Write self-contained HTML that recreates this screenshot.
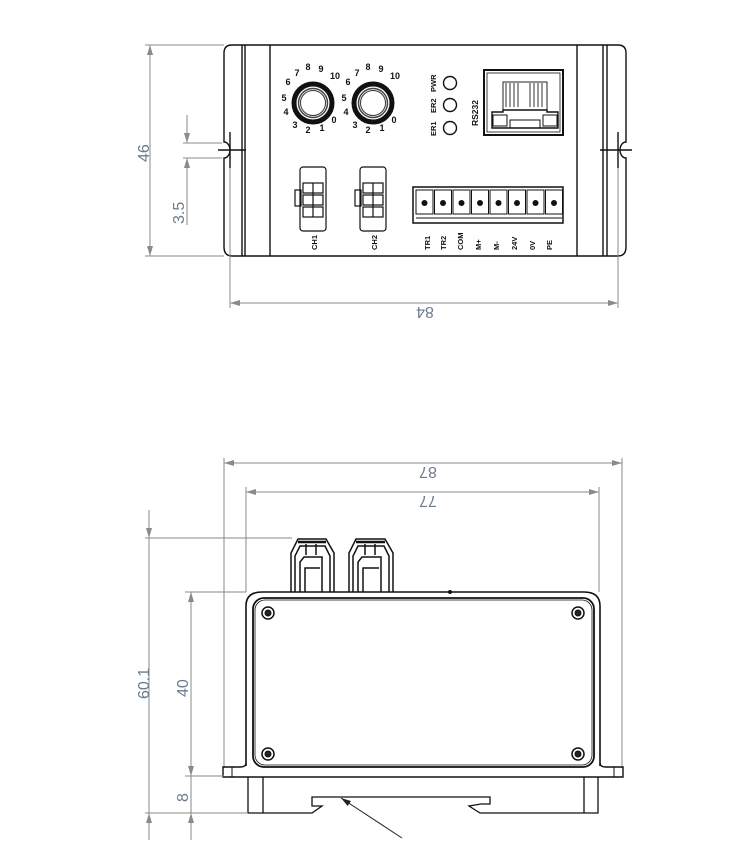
<!DOCTYPE html>
<html><head><meta charset="utf-8"><style>
html,body{margin:0;padding:0;background:#fff;}
svg{display:block;}
.d{stroke:#8a8a8a;stroke-width:1;fill:none;}
.k{stroke:#111;stroke-width:1.4;fill:none;}
.t{font-family:"Liberation Sans",sans-serif;fill:#6b7b8e;font-size:16px;}
.s{font-family:"Liberation Sans",sans-serif;fill:#111;font-size:7.5px;font-weight:bold;}
</style></head><body>
<svg width="750" height="845" viewBox="0 0 750 845" xmlns="http://www.w3.org/2000/svg">
<defs>
<marker id="a" viewBox="0 0 10 6" refX="10" refY="3" markerWidth="10" markerHeight="6" orient="auto-start-reverse" markerUnits="userSpaceOnUse"><path d="M0,0 L10,3 L0,6 z" fill="#8a8a8a"/></marker>
<marker id="b" viewBox="0 0 10 6" refX="10" refY="3" markerWidth="10" markerHeight="6" orient="auto" markerUnits="userSpaceOnUse"><path d="M0,0 L10,3 L0,6 z" fill="#222"/></marker>
</defs>

<!-- ===== TOP VIEW ===== -->
<path class="k" d="M232,45 H618 Q626,45 626,53 V142 A6,8 0 0 0 626,158 V247 Q626,256 618,256 H232 Q224,256 224,247 V158 A6,8 0 0 0 224,142 V53 Q224,45 232,45 Z"/>
<line class="k" x1="242" y1="45" x2="242" y2="256"/>
<line class="k" x1="245" y1="45" x2="245" y2="256"/>
<line class="k" x1="270" y1="45" x2="270" y2="256"/>
<line class="k" x1="577" y1="45" x2="577" y2="256"/>
<line class="k" x1="603" y1="45" x2="603" y2="256"/>
<line class="k" x1="607" y1="45" x2="607" y2="256"/>
<line class="k" x1="218" y1="150" x2="246" y2="150" stroke-width="1"/>
<line class="k" x1="230" y1="132" x2="230" y2="168" stroke-width="1"/>
<line class="k" x1="600" y1="150" x2="632" y2="150" stroke-width="1"/>
<line class="k" x1="618" y1="132" x2="618" y2="168" stroke-width="1"/>

<!-- knobs -->
<g>
<circle cx="313" cy="103" r="19" fill="none" stroke="#111" stroke-width="5"/>
<circle cx="313" cy="103" r="14.5" fill="none" stroke="#444" stroke-width="1.5"/>
<circle cx="313" cy="103" r="12.5" fill="none" stroke="#333" stroke-width="1"/>
<circle cx="373" cy="103" r="19" fill="none" stroke="#111" stroke-width="5"/>
<circle cx="373" cy="103" r="14.5" fill="none" stroke="#444" stroke-width="1.5"/>
<circle cx="373" cy="103" r="12.5" fill="none" stroke="#333" stroke-width="1"/>
<g font-family="Liberation Sans,sans-serif" font-size="9" font-weight="bold" fill="#111" text-anchor="middle">
<text x="288" y="85">6</text><text x="297" y="76">7</text><text x="308" y="70">8</text><text x="321" y="72">9</text><text x="335" y="79">10</text>
<text x="284" y="101">5</text><text x="286" y="115">4</text><text x="295" y="128">3</text><text x="308" y="133">2</text><text x="322" y="131">1</text><text x="334" y="123">0</text>
<text x="348" y="85">6</text><text x="357" y="76">7</text><text x="368" y="70">8</text><text x="381" y="72">9</text><text x="395" y="79">10</text>
<text x="344" y="101">5</text><text x="346" y="115">4</text><text x="355" y="128">3</text><text x="368" y="133">2</text><text x="382" y="131">1</text><text x="394" y="123">0</text>
</g>
</g>

<!-- LEDs -->
<circle class="k" cx="450" cy="83" r="6.5"/>
<circle class="k" cx="450" cy="105" r="6.5"/>
<circle class="k" cx="450" cy="128" r="6.5"/>
<text class="s" transform="translate(436,92) rotate(-90)">PWR</text>
<text class="s" transform="translate(436,113) rotate(-90)">ER2</text>
<text class="s" transform="translate(436,136) rotate(-90)">ER1</text>
<text class="s" style="font-size:8.5px" transform="translate(478,126) rotate(-90)">RS232</text>

<!-- RJ45 -->
<rect x="484" y="70" width="79" height="65" fill="none" stroke="#111" stroke-width="2"/>
<rect x="487" y="73" width="73" height="59" fill="none" stroke="#111" stroke-width="0.8"/>
<rect x="503" y="82" width="44" height="28" fill="none" stroke="#222" stroke-width="1"/>
<g stroke="#333" stroke-width="1"><line x1="506" y1="83" x2="506" y2="107"/><line x1="510" y1="83" x2="510" y2="107"/><line x1="514" y1="83" x2="514" y2="107"/><line x1="518" y1="83" x2="518" y2="107"/><line x1="530" y1="83" x2="530" y2="107"/><line x1="534" y1="83" x2="534" y2="107"/><line x1="538" y1="83" x2="538" y2="107"/><line x1="542" y1="83" x2="542" y2="107"/></g>
<path class="k" d="M492,112 H503 V110 H547 V112 H558 V128 H492 Z" stroke-width="1"/>
<rect x="493" y="115" width="14" height="11" fill="none" stroke="#111" stroke-width="1"/>
<rect x="543" y="115" width="14" height="11" fill="none" stroke="#111" stroke-width="1"/>
<rect x="510" y="120" width="30" height="8" fill="none" stroke="#111" stroke-width="1"/>

<!-- CH connectors -->
<g fill="none" stroke="#111" stroke-width="1.2">
<rect x="300" y="167" width="26" height="64" rx="3"/>
<rect x="295" y="190" width="6" height="16"/>
<rect x="303" y="183" width="20" height="10"/><rect x="303" y="195" width="20" height="10"/><rect x="303" y="207" width="20" height="10"/>
<line x1="313" y1="183" x2="313" y2="217"/>
<rect x="360" y="167" width="26" height="64" rx="3"/>
<rect x="355" y="190" width="6" height="16"/>
<rect x="363" y="183" width="20" height="10"/><rect x="363" y="195" width="20" height="10"/><rect x="363" y="207" width="20" height="10"/>
<line x1="373" y1="183" x2="373" y2="217"/>
</g>
<text class="s" transform="translate(317,250) rotate(-90)">CH1</text>
<text class="s" transform="translate(377,250) rotate(-90)">CH2</text>

<!-- terminal block -->
<rect x="413" y="187" width="150" height="36" fill="none" stroke="#111" stroke-width="1.5"/>
<g fill="none" stroke="#111" stroke-width="1">
<rect x="416" y="190" width="17" height="24"/><rect x="434.5" y="190" width="17" height="24"/><rect x="453" y="190" width="17" height="24"/><rect x="471.5" y="190" width="17" height="24"/><rect x="490" y="190" width="17" height="24"/><rect x="508.5" y="190" width="17" height="24"/><rect x="527" y="190" width="17" height="24"/><rect x="545.5" y="190" width="17" height="24"/>
<line x1="416" y1="218" x2="562" y2="218"/>
</g>
<g fill="#111">
<circle cx="424.5" cy="203" r="3"/><circle cx="443" cy="203" r="3"/><circle cx="461.5" cy="203" r="3"/><circle cx="480" cy="203" r="3"/><circle cx="498.5" cy="203" r="3"/><circle cx="517" cy="203" r="3"/><circle cx="535.5" cy="203" r="3"/><circle cx="554" cy="203" r="3"/>
</g>
<text class="s" transform="translate(430,250) rotate(-90)">TR1</text>
<text class="s" transform="translate(446,250) rotate(-90)">TR2</text>
<text class="s" transform="translate(463,250) rotate(-90)">COM</text>
<text class="s" transform="translate(481,250) rotate(-90)">M+</text>
<text class="s" transform="translate(499,250) rotate(-90)">M-</text>
<text class="s" transform="translate(517,250) rotate(-90)">24V</text>
<text class="s" transform="translate(535,250) rotate(-90)">0V</text>
<text class="s" transform="translate(552,250) rotate(-90)">PE</text>

<!-- top dims -->
<line class="d" x1="145" y1="45" x2="224" y2="45"/>
<line class="d" x1="145" y1="256" x2="224" y2="256"/>
<line class="d" x1="150" y1="45" x2="150" y2="256" marker-start="url(#a)" marker-end="url(#a)"/>
<text class="t" transform="translate(149,162) rotate(-90)">46</text>
<line class="d" x1="183" y1="143" x2="222" y2="143"/>
<line class="d" x1="183" y1="158" x2="222" y2="158"/>
<line class="d" x1="187" y1="115" x2="187" y2="143" marker-end="url(#a)"/>
<line class="d" x1="187" y1="225" x2="187" y2="158" marker-end="url(#a)"/>
<text class="t" transform="translate(184,224) rotate(-90)">3.5</text>
<line class="d" x1="230" y1="168" x2="230" y2="308"/>
<line class="d" x1="618" y1="168" x2="618" y2="308"/>
<line class="d" x1="230" y1="303" x2="618" y2="303" marker-start="url(#a)" marker-end="url(#a)"/>
<text class="t" text-anchor="middle" transform="translate(425,307) rotate(180)">84</text>

<!-- ===== BOTTOM VIEW ===== -->
<line class="d" x1="224" y1="458" x2="224" y2="768"/>
<line class="d" x1="622" y1="458" x2="622" y2="768"/>
<line class="d" x1="246" y1="487" x2="246" y2="592"/>
<line class="d" x1="599" y1="487" x2="599" y2="592"/>
<line class="d" x1="224" y1="463" x2="622" y2="463" marker-start="url(#a)" marker-end="url(#a)"/>
<line class="d" x1="246" y1="492" x2="599" y2="492" marker-start="url(#a)" marker-end="url(#a)"/>
<text class="t" text-anchor="middle" transform="translate(428,467) rotate(180)">87</text>
<text class="t" text-anchor="middle" transform="translate(428,496) rotate(180)">77</text>

<g fill="none" stroke="#111" stroke-width="1.5">
<path d="M291,592 V553 L298,539 H326 L334,553 V592"/>
<path d="M295,592 V556 L300,546 H325 L330,556 V592"/>
<line x1="298" y1="542" x2="326" y2="542" stroke-width="2.5"/>
<line x1="306" y1="544" x2="306" y2="555"/><line x1="316" y1="544" x2="316" y2="555"/>
<path d="M300,592 V562 L304,557 H322 V592"/>
<path d="M305,592 V568 H320"/>
<path d="M349,592 V553 L356,539 H385 L393,553 V592"/>
<path d="M353,592 V556 L358,546 H384 L389,556 V592"/>
<line x1="356" y1="542" x2="385" y2="542" stroke-width="2.5"/>
<line x1="365" y1="544" x2="365" y2="555"/><line x1="375" y1="544" x2="375" y2="555"/>
<path d="M358,592 V562 L362,557 H381 V592"/>
<path d="M363,592 V568 H379"/>
</g>
<circle cx="450" cy="592" r="2" fill="#111"/>

<path d="M246,766 V606 Q246,592 262,592 H584 Q600,592 600,606 V766" fill="none" stroke="#111" stroke-width="1.6"/>
<rect x="253" y="598" width="341" height="169" rx="11" fill="none" stroke="#111" stroke-width="1.8"/>
<rect x="255" y="600" width="337" height="165" rx="10" fill="none" stroke="#111" stroke-width="0.8"/>
<path d="M246,763 Q246,767 240,767 H223 V777 H623 V767 H606 Q600,767 600,763" fill="none" stroke="#111" stroke-width="1.4"/>
<line x1="232" y1="767" x2="232" y2="777" stroke="#111" stroke-width="1"/>
<line x1="614" y1="767" x2="614" y2="777" stroke="#111" stroke-width="1"/>
<g fill="none" stroke="#111">
<circle cx="268" cy="613" r="6" stroke-width="1.5"/><circle cx="268" cy="613" r="3" fill="#222"/>
<circle cx="578" cy="613" r="6" stroke-width="1.5"/><circle cx="578" cy="613" r="3" fill="#222"/>
<circle cx="268" cy="754" r="6" stroke-width="1.5"/><circle cx="268" cy="754" r="3" fill="#222"/>
<circle cx="578" cy="754" r="6" stroke-width="1.5"/><circle cx="578" cy="754" r="3" fill="#222"/>
</g>
<path d="M248,777 V813 H312 L322,806 H312 V797 H490 V804 H481 L469,806 L480,813 H598 V777" fill="none" stroke="#111" stroke-width="1.3"/>
<line x1="263" y1="777" x2="263" y2="813" stroke="#111" stroke-width="1.3"/>
<line x1="584" y1="777" x2="584" y2="813" stroke="#111" stroke-width="1.3"/>
<line x1="402" y1="838" x2="341" y2="798" stroke="#222" stroke-width="1" marker-end="url(#b)"/>

<line class="d" x1="145" y1="538" x2="292" y2="538"/>
<line class="d" x1="145" y1="813" x2="248" y2="813"/>
<line class="d" x1="185" y1="592" x2="246" y2="592"/>
<line class="d" x1="185" y1="776" x2="224" y2="776"/>
<line class="d" x1="149" y1="510" x2="149" y2="538" marker-end="url(#a)"/>
<line class="d" x1="149" y1="840" x2="149" y2="813" marker-end="url(#a)"/>
<line class="d" x1="149" y1="538" x2="149" y2="813"/>
<text class="t" transform="translate(149,699) rotate(-90)">60.1</text>
<line class="d" x1="191" y1="592" x2="191" y2="776" marker-start="url(#a)" marker-end="url(#a)"/>
<text class="t" transform="translate(188,697) rotate(-90)">40</text>
<line class="d" x1="191" y1="776" x2="191" y2="840"/>
<line class="d" x1="191" y1="840" x2="191" y2="813" marker-end="url(#a)"/>
<text class="t" transform="translate(188,802) rotate(-90)">8</text>
</svg>
</body></html>
